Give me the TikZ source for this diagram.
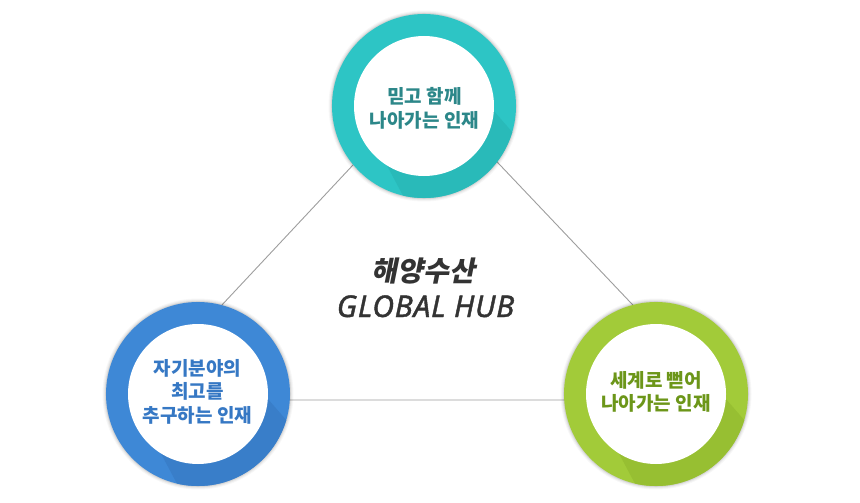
\documentclass[tikz,border=0pt]{standalone}
\usepackage{fontspec}
\setmainfont{Noto Sans CJK KR}
\newfontfamily\kr{Noto Sans CJK KR}
\newfontfamily\krsl{Noto Sans CJK KR}[FakeSlant=0.2]
\newfontfamily\latit{Noto Sans}[FakeBold=1.3,LetterSpace=2.5]
\usetikzlibrary{calc}
\definecolor{tealring}{RGB}{45,197,197}
\definecolor{tealdark}{RGB}{41,186,185}
\definecolor{tealtext}{RGB}{44,135,137}
\definecolor{bluering}{RGB}{62,136,214}
\definecolor{bluedark}{RGB}{57,126,201}
\definecolor{bluetext}{RGB}{54,120,196}
\definecolor{greenring}{RGB}{162,203,57}
\definecolor{greendark}{RGB}{151,191,50}
\definecolor{greentext}{RGB}{108,150,25}
\definecolor{titlegray}{RGB}{51,51,51}
\tikzset{
  edgeline/.style={draw=black!38,line width=0.9pt},
  ringtext/.style={align=center,font=\kr\bfseries\fontsize{19}{23.5}\selectfont,inner sep=0pt},
}
\newcommand{\myring}[3]{%
  \foreach \rr/\op in {95.5/0.03,94.5/0.04,93.5/0.05,92.8/0.06}{\fill[black,opacity=\op] (#1) circle[radius=\rr];}
  \fill[#2] (#1) circle[radius=92];
  \begin{scope}
    \clip (#1) circle[radius=92];
    \fill[#3] ($(#1)+(4:70)$) -- ++(49:200) -- ($(#1)+(122:70)+(62:200)$) -- ($(#1)+(122:70)$) -- (#1) -- cycle;
  \end{scope}
  \fill[white] (#1) circle[radius=70];
}
\begin{document}
\begin{tikzpicture}[x=1pt,y=-1pt]
\fill[white] (0,0) rectangle (860,503);
\useasboundingbox (0,0) rectangle (860,503);
\coordinate (A) at (426,87);
\coordinate (B) at (133,400);
\coordinate (C) at (723,400);
\draw[edgeline] (A) -- (B) -- (C) -- cycle;
\coordinate (ctop) at (424,106);
\coordinate (cleft) at (198,394);
\coordinate (cright) at (656,394);
\myring{ctop}{tealring}{tealdark}
\myring{cleft}{bluering}{bluedark}
\myring{cright}{greenring}{greendark}
\node[ringtext,text=tealtext] (ttop) at (424.5,108.5) {믿고 함께\\나아가는 인재};
\node[ringtext,text=bluetext] (tleft) at (197.5,391.5) {자기분야의\\최고를\\추구하는 인재};
\node[ringtext,text=greentext] (tright) at (656,392) {세계로 뻗어\\나아가는 인재};
\node[inner sep=0pt,text=titlegray,font=\krsl\fontseries{m}\fontsize{28}{30}\selectfont] (t1) at (423.5,271.5) {\bfseries 해양수산};
\node[inner sep=0pt,text=titlegray,font=\latit\itshape\fontsize{30}{30}\selectfont,anchor=base] (t2) at (425.5,317) {GLOBAL HUB};
\end{tikzpicture}
\end{document}
